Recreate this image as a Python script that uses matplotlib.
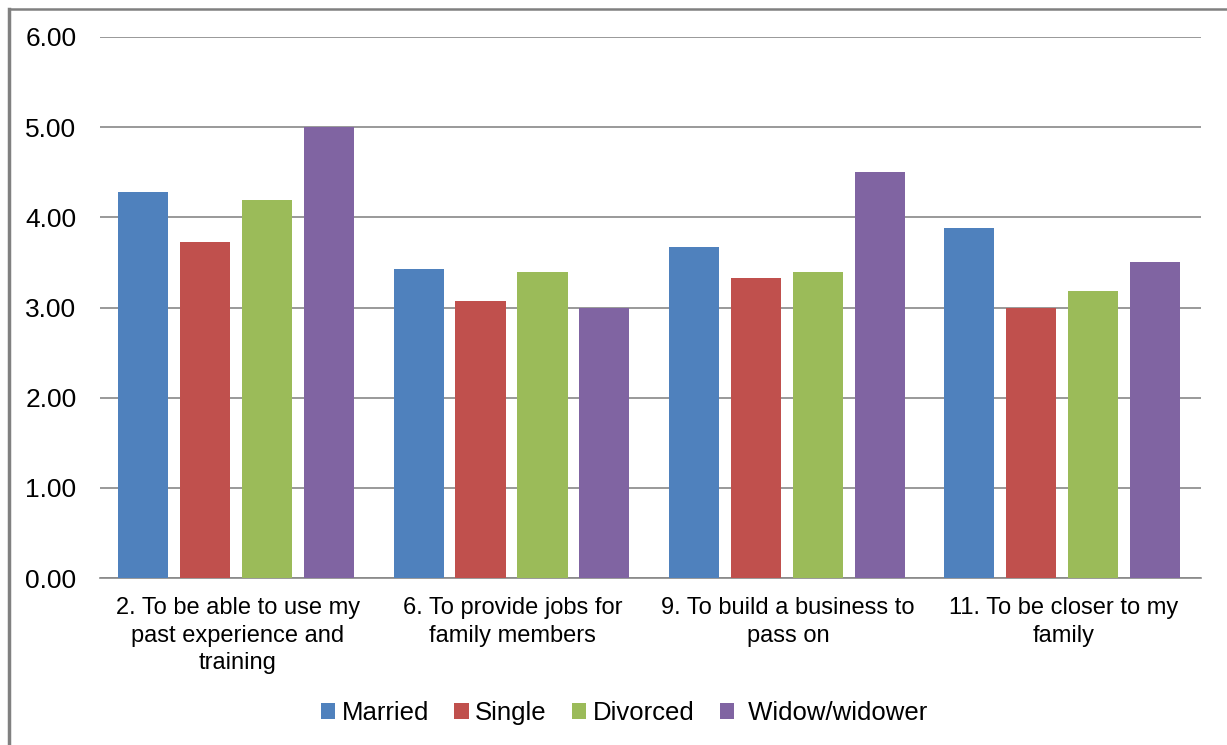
import numpy as np
import matplotlib.pyplot as plt
from matplotlib.lines import Line2D

plt.rcParams['font.family'] = ['Liberation Sans', 'DejaVu Sans']

# Mean scores per reason, by marital status
reasons = ['2. To be able to use my\npast experience and\ntraining',
           '6. To provide jobs for\nfamily members',
           '9. To build a business to\npass on',
           '11. To be closer to my\nfamily']
married = [4.28, 3.43, 3.67, 3.88]
single = [3.73, 3.07, 3.33, 3.00]
divorced = [4.19, 3.39, 3.39, 3.18]
widow = [5.00, 3.00, 4.50, 3.50]
series = [('Married', married, '#4F81BD'),
          ('Single', single, '#C0504D'),
          ('Divorced', divorced, '#9BBB59'),
          (' Widow/widower', widow, '#8064A2')]
yticks = [0, 1, 2, 3, 4, 5, 6]

fig = plt.figure(figsize=(12.27, 7.45), dpi=100)
ax = fig.add_axes([100 / 1227, 167 / 745, 1101 / 1227, 541 / 745])

x = np.arange(len(reasons))
step, width = 0.225, 0.182
for i, (name, vals, col) in enumerate(series):
    ax.bar(x + (i - 1.5) * step - 0.005, vals, width, color=col, label=name, zorder=3)

ax.set_xlim(-0.5, len(reasons) - 0.5)
ax.set_ylim(0, 6)
ax.set_yticks(yticks)
ax.set_yticklabels([f'{v:.2f}' for v in yticks], fontsize=19)
ax.set_xticks(x)
ax.set_xticklabels(reasons, fontsize=17, linespacing=1.3)
ax.tick_params(length=0)
ax.tick_params(axis='y', pad=17)
ax.tick_params(axis='x', pad=14)
ax.grid(axis='y', color='#888888', linewidth=1.2, zorder=0)
for side in ['top', 'right', 'left']:
    ax.spines[side].set_visible(False)
ax.spines['bottom'].set_color('#888888')
ax.spines['bottom'].set_linewidth(1.2)

fig.legend(loc='center', bbox_to_anchor=(624 / 1227, 1 - 713 / 745), ncol=4,
           frameon=False, fontsize=18.5, handlelength=0.55, handleheight=0.55,
           handletextpad=0.25, columnspacing=1.0)

# chart frame on the left and top edges
fig.add_artist(Line2D([9 / 1227, 9 / 1227], [0, 1 - 9 / 745], color='#808080',
                      linewidth=2.5, transform=fig.transFigure))
fig.add_artist(Line2D([9 / 1227, 1], [1 - 9 / 745, 1 - 9 / 745], color='#808080',
                      linewidth=1.8, transform=fig.transFigure))

fig.savefig('out.png', dpi=100)
